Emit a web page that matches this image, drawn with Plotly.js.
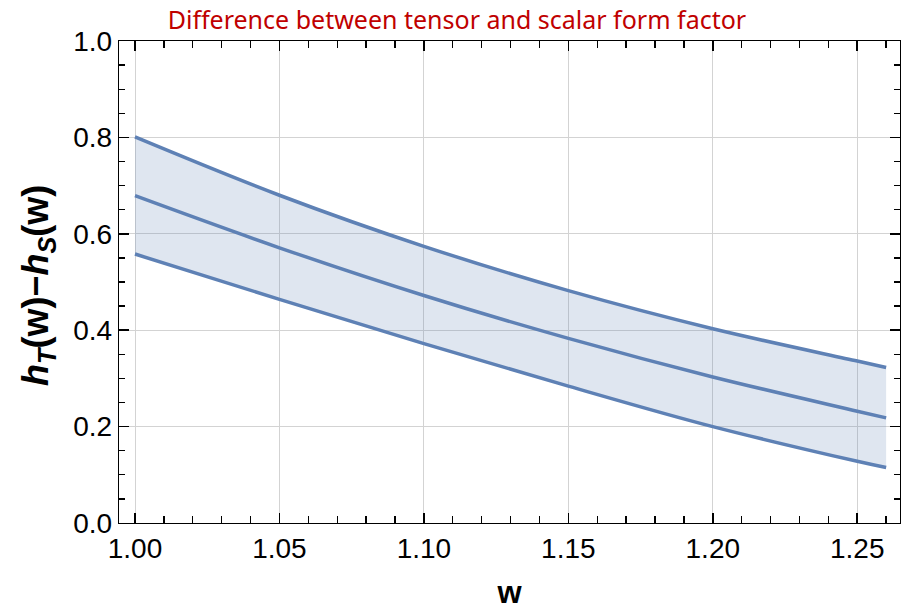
<!DOCTYPE html>
<html>
<head>
<meta charset="utf-8">
<script src="https://cdn.plot.ly/plotly-3.0.1.min.js"></script>
<style>html,body{margin:0;padding:0;background:#fff;}#chart{width:903px;height:610px;}</style>
</head>
<body>
<div id="chart"></div>
<script>
const w = [1.00, 1.05, 1.10, 1.15, 1.20, 1.25, 1.26];
const upper = [0.801, 0.680, 0.574, 0.482, 0.403, 0.336, 0.3226];
const middle = [0.679, 0.571, 0.472, 0.383, 0.303, 0.232, 0.218];
const lower = [0.558, 0.464, 0.372, 0.284, 0.200, 0.128, 0.115];
const xTickVals = [1.00, 1.05, 1.10, 1.15, 1.20, 1.25];
const xTickText = ['1.00', '1.05', '1.10', '1.15', '1.20', '1.25'];
const yTickVals = [0.0, 0.2, 0.4, 0.6, 0.8, 1.0];
const yTickText = ['0.0', '0.2', '0.4', '0.6', '0.8', '1.0'];
const titleText = "Difference between tensor and scalar form factor";
const xTitle = "<b>w</b>";
const yTitle = "<b><i>h</i><sub><i>T</i></sub>(w)\u2212<i>h</i><sub><i>S</i></sub>(w)</b>";

const xRange = [0.99446, 1.2648];
const yRange = [0, 1];

const lineColor = '#5e81b5';
const lineStyle = {color: lineColor, width: 3.5, shape: 'spline', smoothing: 1};

const traces = [
  {x: w, y: lower, mode: 'lines', line: lineStyle, hoverinfo: 'skip', showlegend: false},
  {x: w, y: upper, mode: 'lines', line: lineStyle, fill: 'tonexty', fillcolor: 'rgba(94,129,181,0.2)', hoverinfo: 'skip', showlegend: false},
  {x: w, y: middle, mode: 'lines', line: lineStyle, hoverinfo: 'skip', showlegend: false},
  {x: [1.0], y: [0.5], xaxis: 'x2', yaxis: 'y2', mode: 'markers', marker: {size: 0.1, opacity: 0}, hoverinfo: 'skip', showlegend: false}
];

const tickFont = {family: 'Liberation Sans, Arial, sans-serif', size: 28, color: '#000'};

const layout = {
  width: 903, height: 610,
  margin: {l: 119, r: 3, t: 41, b: 87},
  paper_bgcolor: '#fff', plot_bgcolor: '#fff',
  title: {text: titleText, font: {family: 'Noto Sans, sans-serif', size: 25, color: '#c00000'},
          x: 0.506, xref: 'container', xanchor: 'center', y: 0.966, yref: 'container', yanchor: 'middle'},
  xaxis: {
    range: xRange, tickmode: 'array', tickvals: xTickVals, ticktext: xTickText,
    ticks: 'inside', ticklen: 10, tickwidth: 1.5, tickcolor: '#000',
    showline: true, linecolor: '#000', linewidth: 1.3, mirror: 'allticks',
    showgrid: true, gridcolor: '#d3d3d3', gridwidth: 1, zeroline: false, tickfont: tickFont,
    title: {text: xTitle, font: {family: 'Liberation Sans, Arial, sans-serif', size: 31, color: '#000'}, standoff: 22}
  },
  yaxis: {
    range: yRange, tickmode: 'array', tickvals: yTickVals, ticktext: yTickText,
    ticks: 'inside', ticklen: 10, tickwidth: 1.5, tickcolor: '#000',
    showline: true, linecolor: '#000', linewidth: 1.3, mirror: 'allticks',
    showgrid: true, gridcolor: '#d3d3d3', gridwidth: 1, zeroline: false, tickfont: tickFont
  },
  xaxis2: {
    overlaying: 'x', anchor: 'y2', side: 'bottom', range: xRange,
    tickmode: 'linear', tick0: 1.0, dtick: 0.01,
    ticks: 'inside', ticklen: 7, tickwidth: 1.3, tickcolor: '#000',
    showline: false, mirror: 'allticks',
    showticklabels: false, showgrid: false, zeroline: false
  },
  yaxis2: {
    overlaying: 'y', anchor: 'x2', side: 'left', range: yRange,
    tickmode: 'linear', tick0: 0, dtick: 0.05,
    ticks: 'inside', ticklen: 6, tickwidth: 1.3, tickcolor: '#000',
    showline: false, mirror: 'allticks',
    showticklabels: false, showgrid: false, zeroline: false
  },
  annotations: [{
    text: yTitle, textangle: -90, xref: 'paper', yref: 'paper', x: 0, y: 0.5,
    xanchor: 'center', yanchor: 'middle', xshift: -81, yshift: -4, showarrow: false,
    font: {family: 'Liberation Sans, Arial, sans-serif', size: 36, color: '#000'}
  }]
};

Plotly.newPlot('chart', traces, layout, {displayModeBar: false, staticPlot: true});
</script>
</body>
</html>
